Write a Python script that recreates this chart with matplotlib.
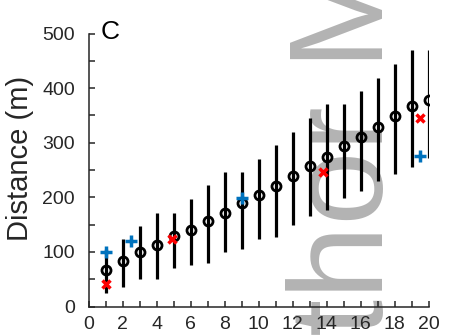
import numpy as np
import matplotlib
matplotlib.use('Agg')
import matplotlib.pyplot as plt

plt.rcParams['font.family'] = ['Liberation Sans', 'DejaVu Sans']

# data
days = np.arange(1, 21)
dist_mean = [67, 84, 100, 112, 129, 141, 156, 172, 190, 204,
             221, 239, 257, 274, 294, 311, 329, 348, 367, 378]
dist_low = [25, 36, 50, 51, 71, 76, 79, 99, 105, 124,
            127, 149, 166, 177, 198, 212, 229, 243, 256, 272]
dist_high = [105, 123, 148, 172, 172, 197, 222, 246, 246, 271,
             296, 320, 345, 370, 370, 395, 419, 444, 469, 469]
red_x = [1, 4.9, 13.75, 19.5]
red_y = [41, 124, 247, 346]
blue_x = [1, 2.5, 9, 19.5]
blue_y = [100, 120, 198, 276]

AX_COL = '#262626'

fig = plt.figure(figsize=(4.49, 3.35), dpi=100)
ax = fig.add_axes([0.198, 0.085, 0.757, 0.815])

# watermark behind the data
ax.text(0.853, -0.49, 'Author Manuscript', transform=fig.transFigure,
        rotation=90, rotation_mode='anchor', ha='left', va='baseline',
        fontsize=96, color='#b3b3b3', zorder=0.5, clip_on=False)

ax.vlines(days, dist_low, dist_high, color='k', lw=2.3, zorder=2)
ax.plot(days, dist_mean, 'o', ms=6.5, mfc='none', mec='k', mew=2.0, zorder=3)
ax.plot(red_x, red_y, 'x', ms=6, mew=2.5, color='#ff0000', zorder=4)
ax.plot(blue_x, blue_y, '+', ms=8.5, mew=2.5, color='#0072bd', zorder=4)

ax.set_xlim(0, 20)
ax.set_ylim(0, 500)
ax.set_xticks(np.arange(0, 21, 1))
ax.set_xticklabels([str(v) if v % 2 == 0 else '' for v in range(21)])
ax.set_yticks(np.arange(0, 501, 50))
ax.set_yticklabels([str(v) if v % 100 == 0 else '' for v in range(0, 501, 50)])

for s in ['top', 'right']:
    ax.spines[s].set_visible(False)
for s in ['left', 'bottom']:
    ax.spines[s].set_color(AX_COL)
    ax.spines[s].set_linewidth(1.1)
    ax.spines[s].set_zorder(2.5)
ax.tick_params(direction='in', length=4, width=1.1, color=AX_COL,
               labelcolor=AX_COL, labelsize=14)
ax.tick_params(axis='y', pad=10)
ax.tick_params(axis='x', pad=7)
ax.set_facecolor('none')

fig.text(0.045, 0.528, 'Distance (m)', rotation=90, ha='center', va='center',
         fontsize=21, color=AX_COL)
fig.text(0.224, 0.884, 'C', fontsize=19, color='k', ha='left', va='baseline')

fig.savefig('out.png', dpi=100)
